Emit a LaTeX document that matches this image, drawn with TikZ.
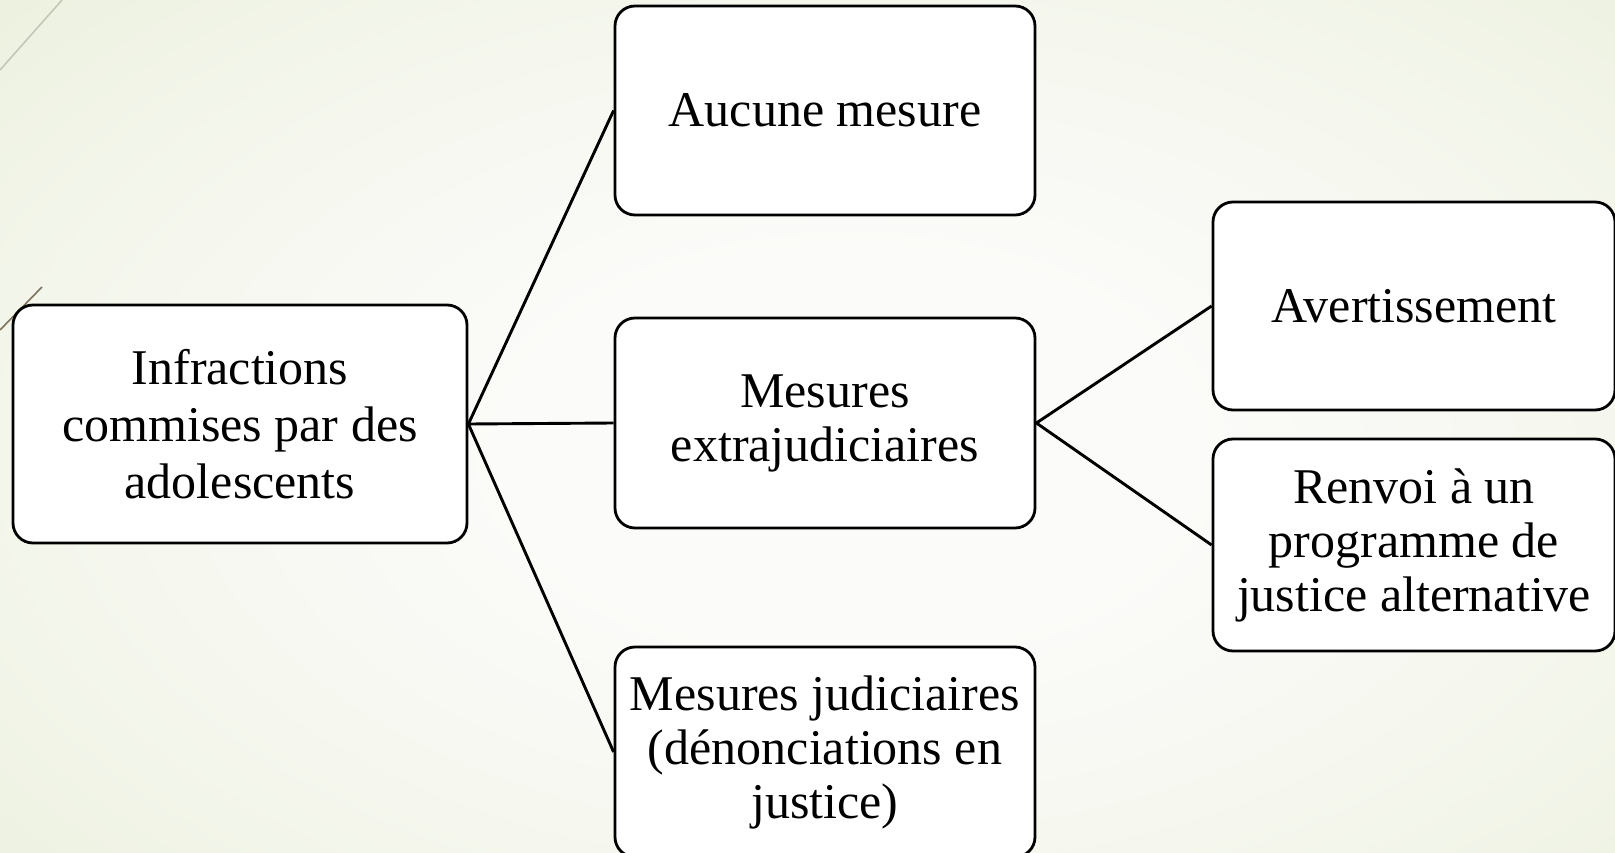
\documentclass[tikz,border=0pt]{standalone}
\usepackage{fontspec}
\setmainfont{Liberation Serif}
\definecolor{bgin}{RGB}{251,251,249}
\definecolor{bgmid}{RGB}{245,247,238}
\definecolor{bgout}{RGB}{235,240,221}
\definecolor{decoA}{RGB}{196,198,182}
\definecolor{decoB}{RGB}{125,115,92}
\pgfdeclareradialshading{bgshade}{\pgfpoint{0bp}{0bp}}{color(0bp)=(bgin); color(9bp)=(bgin); color(20bp)=(bgmid); color(32bp)=(bgout); color(50bp)=(bgout)}
\tikzset{
  box/.style={draw=black, line width=2.8pt, fill=white, rounded corners=20pt,
    align=center, inner sep=4pt, font=\fontsize{50}{54}\selectfont},
  link/.style={draw=black, line width=2.9pt},
  deco/.style={line width=1.6pt}
}
\begin{document}
\begin{tikzpicture}[x=1pt,y=-1pt]
\useasboundingbox (0,0) rectangle (1615,853);
\shade[shading=bgshade] (-100,-100) rectangle (1800,1000);
\draw[deco, draw=decoA] (0,70) -- (62,0);
\draw[deco, draw=decoB] (0,330) -- (42,287);

\node[box, minimum width=454pt, minimum height=238pt, font=\fontsize{50}{57}\selectfont] (inf) at (240,424)
  {Infractions\\commises par des\\adolescents};
\node[box, minimum width=420pt, minimum height=209pt] (auc) at (825,110.5) {Aucune mesure};
\node[box, minimum width=420pt, minimum height=210pt] (ext) at (825,423) {Mesures\\extrajudiciaires};
\node[box, minimum width=420pt, minimum height=210pt] (jud) at (825,752)
  {Mesures judiciaires\\(dénonciations en\\justice)};
\node[box, minimum width=402pt, minimum height=208pt] (ave) at (1414,306) {Avertissement};
\node[box, minimum width=402pt, minimum height=212pt] (ren) at (1414,545)
  {Renvoi à un\\programme de\\justice alternative};

\draw[link] (inf.east) -- (auc.west);
\draw[link] (inf.east) -- (ext.west);
\draw[link] (inf.east) -- (jud.west);
\draw[link] (ext.east) -- (ave.west);
\draw[link] (ext.east) -- (ren.west);
\end{tikzpicture}
\end{document}
